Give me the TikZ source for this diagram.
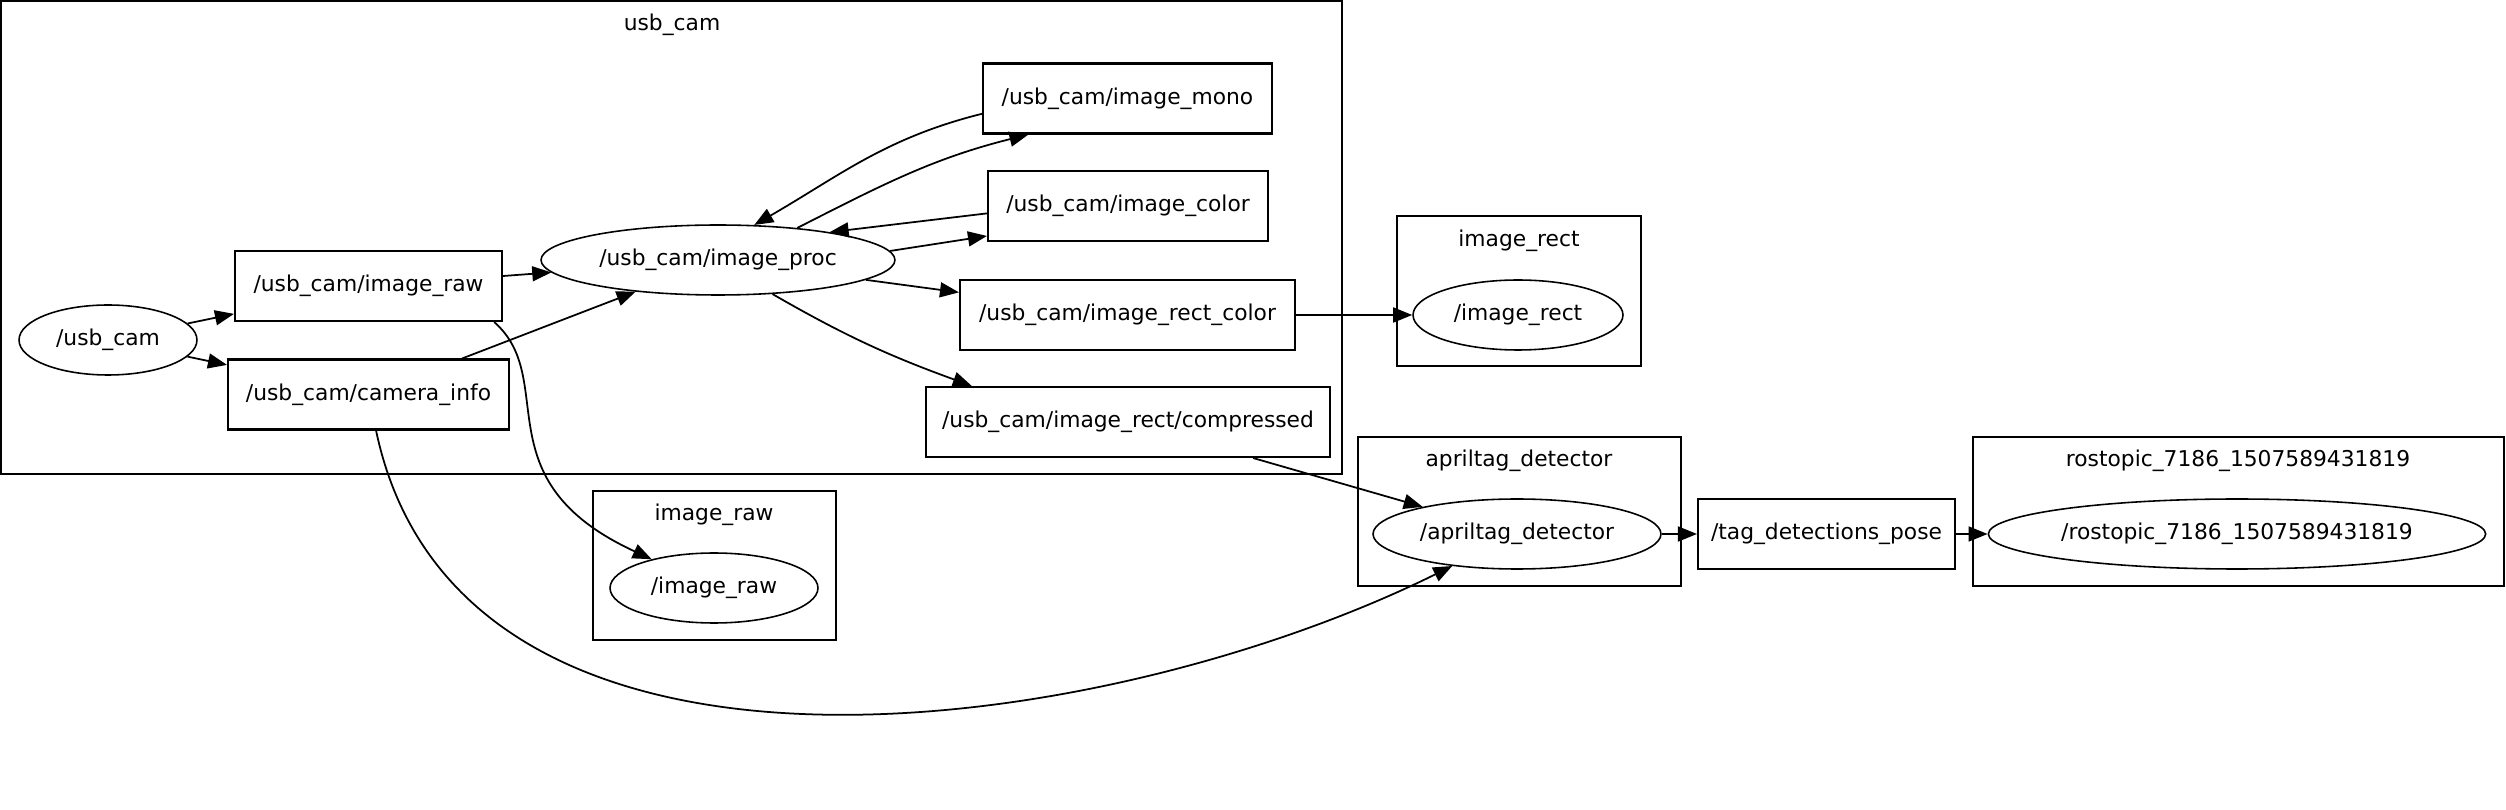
\documentclass[tikz,border=0pt]{standalone}
\usepackage{fontspec}
\setmainfont{DejaVu Sans}
\usetikzlibrary{arrows.meta,shapes.geometric}
\tikzset{
  topic/.style={rectangle, draw, line width=1.2pt, inner sep=0pt,
                minimum height=1.4cm, align=center},
  rosnode/.style={ellipse, draw, line width=0.9pt, inner sep=0pt,
                  minimum height=1.4cm, align=center},
  cluster/.style={rectangle, draw, line width=1.3pt, inner sep=0pt},
  clusterlabel/.style={inner sep=0pt},
  arrow/.style={-{Triangle[length=0.38cm, width=0.3cm]}, line width=1pt},
}

\begin{document}
\begin{tikzpicture}[x=0.02cm, y=-0.02cm, every node/.style={font=\fontsize{12.4}{15}\selectfont}]
\useasboundingbox (0,0) rectangle (2506,810);

% ---- Clusters ----
\node[cluster, minimum width=26.82cm, minimum height=9.46cm] (usbcamgrp) at (671.5,237.5) {};
\node[clusterlabel] (usbcamlbl) at (672,25) {usb\_cam};
\node[cluster, minimum width=4.88cm, minimum height=3.0cm] (imagerectgrp) at (1519,291) {};
\node[clusterlabel] (imagerectlbl) at (1519,241) {image\_rect};
\node[cluster, minimum width=4.86cm, minimum height=2.98cm] (imagerawgrp) at (714.5,565.5) {};
\node[clusterlabel] (imagerawlbl) at (714,515) {image\_raw};
\node[cluster, minimum width=6.46cm, minimum height=2.98cm] (apriltaggrp) at (1519.5,511.5) {};
\node[clusterlabel] (apriltaglbl) at (1519,461) {apriltag\_detector};
\node[cluster, minimum width=10.62cm, minimum height=2.98cm] (rostopicgrp) at (2238.5,511.5) {};
\node[clusterlabel] (rostopiclbl) at (2238,461) {rostopic\_7186\_1507589431819};

% ---- Inside usb_cam ----
\node[rosnode, minimum width=3.56cm] (usbcam) at (108,340) {/usb\_cam};
\node[topic, minimum width=5.34cm] (imageraw) at (368.5,286) {/usb\_cam/image\_raw};
\node[topic, minimum width=5.62cm] (camerainfo) at (368.5,394.5) {/usb\_cam/camera\_info};
\node[rosnode, minimum width=7.08cm] (imageproc) at (718,260) {/usb\_cam/image\_proc};
\node[topic, minimum width=5.78cm] (imagemono) at (1127.5,98.5) {/usb\_cam/image\_mono};
\node[topic, minimum width=5.6cm] (imagecolor) at (1128,206) {/usb\_cam/image\_color};
\node[topic, minimum width=6.7cm] (rectcolor) at (1127.5,315) {/usb\_cam/image\_rect\_color};
\node[topic, minimum width=8.08cm] (rectcomp) at (1128,422) {/usb\_cam/image\_rect/compressed};

% ---- Subscribers ----
\node[rosnode, minimum width=4.2cm] (imagerect) at (1518,315) {/image\_rect};
\node[rosnode, minimum width=4.16cm] (imagerawsub) at (714,588) {/image\_raw};
\node[rosnode, minimum width=5.76cm] (apriltag) at (1517,534) {/apriltag\_detector};
\node[topic, minimum width=5.14cm] (tagpose) at (1826.5,534) {/tag\_detections\_pose};
\node[rosnode, minimum width=9.88cm] (rostopic) at (2237,534) {/rostopic\_7186\_1507589431819};

% ---- Arrows ----
\foreach \a/\b in {usbcam/imageraw, usbcam/camerainfo, imageraw/imageproc, camerainfo/imageproc,
                   imageproc/rectcolor, rectcolor/imagerect, rectcomp/apriltag, apriltag/tagpose, tagpose/rostopic}
  \draw[arrow] (\a) -- (\b);
\draw[arrow] (imagemono.186) to[out=194, in=30] (imageproc.44);
\draw[arrow] (imageproc.22) to[out=27, in=194] (imagemono.200);
\draw[arrow] (imagecolor.183) -- (imageproc.14);
\draw[arrow] (imageproc.3) -- (imagecolor.192);
\draw[arrow] (imageproc.328) to[out=-30, in=160] (rectcomp.167);
\draw[arrow] (imageraw.-16) .. controls (560,380) and (480,480) .. (imagerawsub);
\draw[arrow] (camerainfo) .. controls (460,830) and (1100,740) .. (apriltag);
\end{tikzpicture}
\end{document}
